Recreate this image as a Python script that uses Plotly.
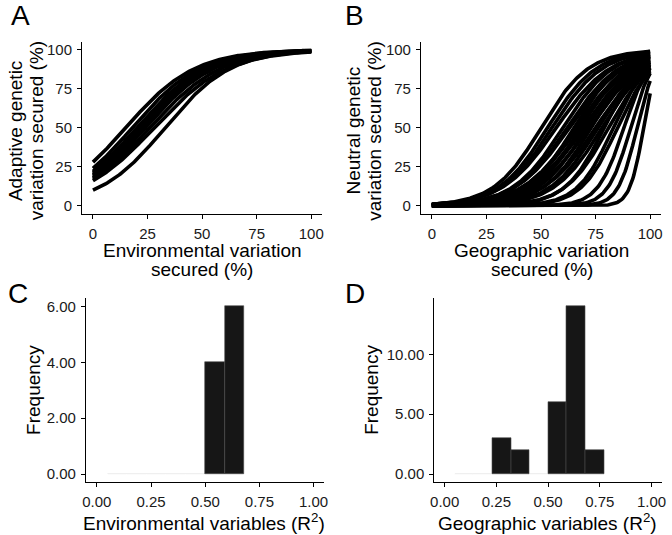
import numpy as np
import plotly.graph_objects as go

# ---------------- data ----------------
# Panel A: adaptive genetic vs environmental variation (logistic curves)
a_start_pct = [28, 24, 22, 21, 20, 19, 18, 17, 16, 10]   # y at x = 0
a_mid_pct = [15, 18, 20, 21, 22, 23, 24, 26, 28, 33]     # x where y = 50

# Panel B: neutral genetic vs geographic variation (logistic curves)
b_mid_pct = [50, 53, 55, 57, 60, 62, 63, 65, 66, 67, 68, 69, 70, 71,
             72, 73, 75, 76, 78, 79, 81, 83, 85, 88, 91, 94, 97]   # x where y = 50
b_end_pct = [99, 98.5, 98, 97, 97, 96, 95, 96, 94, 93, 95, 92, 91, 93,
             90, 92, 89, 90, 88, 91, 87, 89, 86, 88, 85, 80, 72]  # y at x = 100

# Panels C and D: histograms of R^2
c_bin_starts = [0.05, 0.14, 0.23, 0.32, 0.41, 0.50, 0.59]
c_counts = [0, 0, 0, 0, 0, 4, 6]
d_bin_starts = [0.05, 0.14, 0.23, 0.32, 0.41, 0.50, 0.59, 0.68]
d_counts = [0, 0, 3, 2, 0, 6, 14, 2]
bin_width = 0.09

pct_ticks = [0, 25, 50, 75, 100]
r2_ticks = [0, 0.25, 0.5, 0.75, 1.0]
c_yticks = [0, 2, 4, 6]
d_yticks = [0, 5, 10]

# ---------------- figure ----------------
W, H = 672, 535
FONT = "Liberation Sans, Arial, sans-serif"
xs = np.linspace(0, 100, 201)


def logistic(x, mid, k):
    return 100.0 / (1.0 + np.exp(-k * (x - mid)))


fig = go.Figure()

for y0, mid in zip(a_start_pct, a_mid_pct):
    p = y0 / 100.0
    k = -np.log(p / (1 - p)) / mid
    fig.add_trace(go.Scatter(x=xs, y=logistic(xs, mid, k), mode="lines",
                             line=dict(color="black", width=3.6),
                             xaxis="x", yaxis="y", showlegend=False,
                             hoverinfo="skip"))

for mid, y1 in zip(b_mid_pct, b_end_pct):
    p = y1 / 100.0
    k = np.log(p / (1 - p)) / (100 - mid)
    fig.add_trace(go.Scatter(x=xs, y=logistic(xs, mid, k), mode="lines",
                             line=dict(color="black", width=3.6),
                             xaxis="x2", yaxis="y2", showlegend=False,
                             hoverinfo="skip"))


def add_hist(starts, counts, xa, ya):
    centers = [s + bin_width / 2 for s in starts]
    zc = [c for c in counts if c == 0]
    zx = [x for x, c in zip(centers, counts) if c == 0]
    fig.add_trace(go.Bar(x=zx, y=zc, width=bin_width, xaxis=xa, yaxis=ya,
                         marker=dict(color="#161616",
                                     line=dict(color="#eeeeee", width=0.8)),
                         showlegend=False, hoverinfo="skip"))
    nx = [x for x, c in zip(centers, counts) if c > 0]
    ny = [c for c in counts if c > 0]
    fig.add_trace(go.Bar(x=nx, y=ny, width=bin_width, xaxis=xa, yaxis=ya,
                         marker=dict(color="#161616",
                                     line=dict(color="#4a4a4a", width=0.6)),
                         showlegend=False))


add_hist(c_bin_starts, c_counts, "x3", "y3")
add_hist(d_bin_starts, d_counts, "x4", "y4")


def px_x(p):
    return p / W


def px_y(p):
    return 1 - p / H


axis_common = dict(showline=True, linecolor="black", linewidth=1.1,
                   ticks="outside", ticklen=4, tickwidth=1, tickcolor="black",
                   showgrid=False, zeroline=False, ticklabelstandoff=2,
                   tickfont=dict(family=FONT, size=15, color="#1a1a1a"))

top_dom = [px_y(213), px_y(41)]
bot_dom = [px_y(482.3), px_y(297.6)]

fig.update_layout(
    width=W, height=H,
    margin=dict(l=0, r=0, t=0, b=0),
    paper_bgcolor="white", plot_bgcolor="white",
    bargap=0, barmode="overlay",
    font=dict(family=FONT, color="black"),
    xaxis=dict(axis_common, domain=[px_x(79), px_x(322)], range=[-5, 105],
               tickvals=pct_ticks, anchor="y"),
    yaxis=dict(axis_common, domain=top_dom, range=[-5, 105],
               tickvals=pct_ticks, anchor="x"),
    xaxis2=dict(axis_common, domain=[px_x(422), px_x(665)], range=[-5, 105],
                tickvals=pct_ticks, anchor="y2"),
    yaxis2=dict(axis_common, domain=top_dom, range=[-5, 105],
                tickvals=pct_ticks, anchor="x2"),
    xaxis3=dict(axis_common, domain=[px_x(83), px_x(324.3)],
                range=[-0.05, 1.05], tickvals=r2_ticks, tickformat=".2f",
                anchor="y3"),
    yaxis3=dict(axis_common, domain=bot_dom, range=[-0.3, 6.3],
                tickvals=c_yticks, tickformat=".2f", anchor="x3"),
    xaxis4=dict(axis_common, domain=[px_x(435.5), px_x(665.8)],
                range=[-0.05, 1.05], tickvals=r2_ticks, tickformat=".2f",
                anchor="y4"),
    yaxis4=dict(axis_common, domain=bot_dom, range=[-0.7, 14.7],
                tickvals=d_yticks, tickformat=".2f", anchor="x4"),
)

TITLE = 19
anns = [
    ("A", 17, 15, 0, 28),
    ("B", 355, 15, 0, 28),
    ("C", 14, 293, 0, 28),
    ("D", 355, 293, 0, 28),
    ("Environmental variation", 200.5, 250, 0, TITLE),
    ("secured (%)", 200.5, 269, 0, TITLE),
    ("Geographic variation", 544, 250, 0, TITLE),
    ("secured (%)", 544, 269, 0, TITLE),
    ("Adaptive genetic", 11.5, 130, -90, TITLE),
    ("variation secured (%)", 33, 130, -90, TITLE),
    ("Neutral genetic", 354, 130, -90, TITLE),
    ("variation secured (%)", 375.5, 130, -90, TITLE),
    ("Frequency", 30, 390, -90, TITLE),
    ("Frequency", 372, 390, -90, TITLE),
    ("Environmental variables (R<sup>2</sup>)", 202, 521.5, 0, TITLE),
    ("Geographic variables (R<sup>2</sup>)", 550, 521.5, 0, TITLE),
]
for text, x, y, ang, size in anns:
    fig.add_annotation(text=text, x=px_x(x), y=px_y(y), xref="paper",
                       yref="paper", showarrow=False, textangle=ang,
                       xanchor="center", yanchor="middle",
                       font=dict(family=FONT, size=size, color="black"))

fig.write_html("out.html", config={"displayModeBar": False},
               post_script="document.body.style.margin='0';"
                           "document.body.style.overflow='hidden';")
